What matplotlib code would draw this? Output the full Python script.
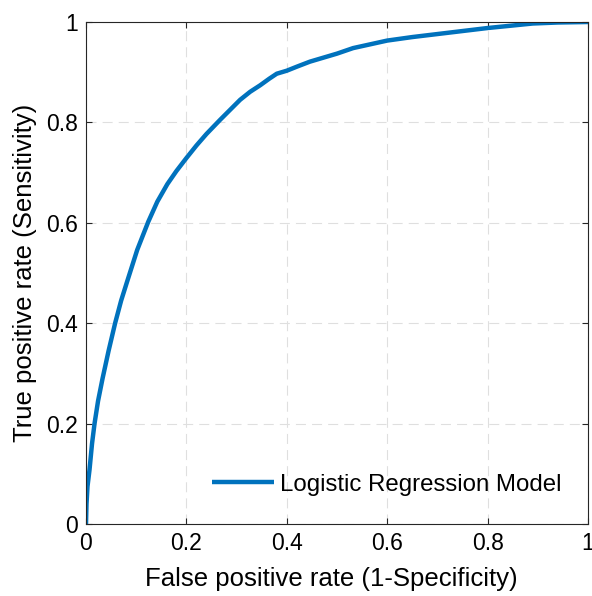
import matplotlib
matplotlib.use("Agg")
import matplotlib.pyplot as plt
import numpy as np

fpr = [0.0, 0.001, 0.003, 0.007, 0.012, 0.017, 0.024, 0.033, 0.045, 0.058, 0.070,
       0.081, 0.102, 0.124, 0.142, 0.162, 0.18, 0.2, 0.22, 0.24, 0.267, 0.287,
       0.307, 0.327, 0.347, 0.365, 0.38, 0.4, 0.42, 0.446, 0.5, 0.532, 0.6,
       0.65, 0.7, 0.75, 0.8, 0.85, 0.89, 0.94, 1.0]
tpr = [0.0, 0.04, 0.075, 0.108, 0.16, 0.2, 0.245, 0.29, 0.345, 0.4, 0.445,
       0.48, 0.546, 0.602, 0.642, 0.677, 0.703, 0.729, 0.754, 0.777, 0.805, 0.825,
       0.845, 0.861, 0.874, 0.887, 0.897, 0.903, 0.911, 0.921, 0.937, 0.948, 0.963,
       0.97, 0.976, 0.982, 0.988, 0.993, 0.997, 0.999, 1.0]
series_label = "Logistic Regression Model"
ticks = [0, 0.2, 0.4, 0.6, 0.8, 1]
tick_labels = ["0", "0.2", "0.4", "0.6", "0.8", "1"]

plt.rcParams['font.family'] = ['Liberation Sans', 'DejaVu Sans']
fig = plt.figure(figsize=(5.92, 5.96), dpi=100)
ax = fig.add_axes([86/592, 72/596, 502/592, 502/596])

ax.plot(fpr, tpr, color='#0072BD', lw=3.2, label=series_label, solid_capstyle='butt')
ax.set_xlim(0, 1)
ax.set_ylim(0, 1)
ax.set_xticks(ticks)
ax.set_xticklabels(tick_labels)
ax.set_yticks(ticks)
ax.set_yticklabels(tick_labels)
ax.tick_params(direction='in', length=4, width=0.8, color='#262626', labelsize=16.5,
               labelcolor='black', top=True, right=True, pad=6)
for s in ax.spines.values():
    s.set_color('#262626')
    s.set_linewidth(0.8)
ax.grid(True, color='#dfdfdf', lw=0.8, ls=(0, (9, 5.5)))
ax.set_axisbelow(True)
ax.set_xlabel("False positive rate (1-Specificity)", fontsize=18.5, labelpad=8)
ax.xaxis.set_label_coords(0.488, -0.085)
ax.set_ylabel("True positive rate (Sensitivity)", fontsize=18.5, labelpad=6)

ax.legend(loc='center left', bbox_to_anchor=(0.251, 0.078), frameon=False,
          borderpad=0, borderaxespad=0, handlelength=2.6, handletextpad=0.22,
          fontsize=17.3)

fig.savefig("out.png", dpi=100)
